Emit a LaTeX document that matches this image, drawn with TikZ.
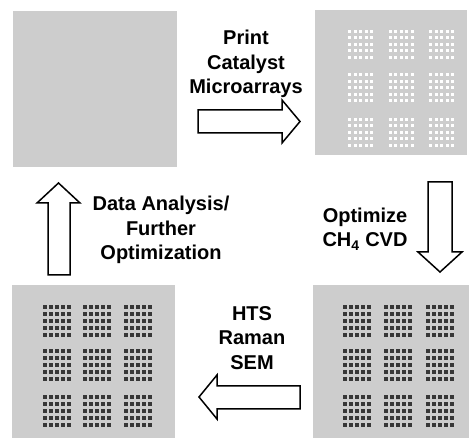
\documentclass[tikz,border=0pt]{standalone}
\usepackage{fontspec}
\setmainfont{Liberation Sans}
\definecolor{chipgray}{RGB}{205,205,205}
\definecolor{dotdark}{RGB}{55,55,55}
\tikzset{
  chipbox/.style={fill=chipgray, draw=none, inner sep=0pt, anchor=north west},
  blockarrow/.style={draw=black, line width=1.5pt, fill=white, line join=miter},
  lbl/.style={font=\bfseries\fontsize{20}{24.5}\selectfont, align=center, inner sep=0pt}
}
\begin{document}
\begin{tikzpicture}[x=1pt,y=-1pt]
\useasboundingbox (0,0) rectangle (469,438);
% chips
\node[chipbox, minimum width=164pt, minimum height=156pt] (tl) at (13,11) {};
\node[chipbox, minimum width=152pt, minimum height=145pt] (tr) at (315,10) {};
\node[chipbox, minimum width=163pt, minimum height=153pt] (bl) at (12,285) {};
\node[chipbox, minimum width=156pt, minimum height=153pt] (br) at (313,285) {};
% white printed dots (top right)
\foreach \bx in {348,388.5,429} \foreach \by in {30,73.5,118}
  \foreach \i in {0,...,4} \foreach \j in {0,...,4}
    \fill[white] (\bx+\i*5.5,\by+\j*6.5) rectangle +(3,3);
% dark grown dots (bottom right)
\foreach \bx in {343,383.5,426} \foreach \by in {305,349,395}
  \foreach \i in {0,...,4} \foreach \j in {0,...,4}
    \fill[dotdark] (\bx+\i*6,\by+\j*7) rectangle +(4,4);
% dark grown dots (bottom left)
\foreach \bx in {43,83,124} \foreach \by in {305,349,395}
  \foreach \i in {0,...,4} \foreach \j in {0,...,4}
    \fill[dotdark] (\bx+\i*6,\by+\j*7) rectangle +(4,4);
% block arrows
\draw[blockarrow] (198,110) -- (282,110) -- (282,100) -- (300,121.5) -- (282,143) -- (282,133) -- (198,133) -- cycle;
\draw[blockarrow] (428,182) -- (452,182) -- (452,252) -- (462,252) -- (440,272) -- (418,252) -- (428,252) -- cycle;
\draw[blockarrow] (48,275) -- (48,203) -- (37,203) -- (58.5,183) -- (80,203) -- (70,203) -- (70,275) -- cycle;
\draw[blockarrow] (300,386) -- (217,386) -- (217,375) -- (199,397) -- (217,419) -- (217,409) -- (300,409) -- cycle;
% labels
\node[lbl] (t1) at (246,64) {Print\\Catalyst\\Microarrays};
\node[lbl] (t2) at (365,229) {Optimize\\CH\textsubscript{4} CVD};
\node[lbl] (t3) at (161,230) {Data Analysis/\\Further\\Optimization};
\node[lbl] (t4) at (252,338) {HTS\\Raman\\SEM};
\end{tikzpicture}
\end{document}
